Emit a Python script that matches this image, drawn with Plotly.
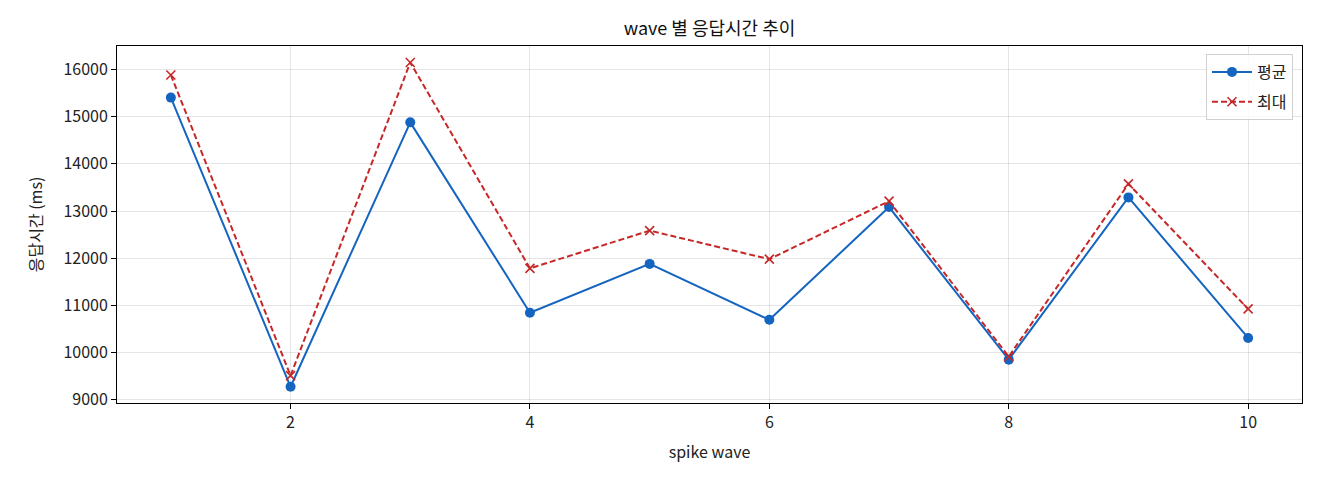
import plotly.graph_objects as go

waves = [1, 2, 3, 4, 5, 6, 7, 8, 9, 10]
avg_ms = [15405, 9275, 14880, 10845, 11880, 10695, 13085, 9850, 13290, 10310]
max_ms = [15885, 9510, 16150, 11785, 12585, 11980, 13210, 9915, 13575, 10925]
y_ticks = [9000, 10000, 11000, 12000, 13000, 14000, 15000, 16000]
x_ticks = [2, 4, 6, 8, 10]

BLUE = "#1565c0"
RED = "#c62828"
FONT = "Noto Sans CJK KR, Noto Sans, DejaVu Sans, sans-serif"

fig = go.Figure()
fig.add_trace(go.Scatter(
    x=waves, y=avg_ms, name="평균", mode="lines+markers", legendgroup="avg",
    line=dict(color=BLUE, width=2),
    marker=dict(symbol="circle", size=10, color=BLUE),
))
fig.add_trace(go.Scatter(
    x=waves, y=max_ms, name="최대", mode="lines+markers", legendgroup="max",
    line=dict(color=RED, width=2, dash="6px,3px"),
    marker=dict(symbol="x-thin", size=9, color=RED, line=dict(color=RED, width=1.6)),
))

# page body adds ~8px offset, margins compensate for it
fig.update_layout(
    width=1320, height=480,
    margin=dict(l=109, r=26, t=38, b=85),
    paper_bgcolor="white", plot_bgcolor="white",
    font=dict(family=FONT, size=16, color="#222"),
    title=dict(text="wave 별 응답시간 추이", x=701.5 / 1320, xanchor="center",
               y=1 - 21 / 480, yanchor="middle", font=dict(size=18, color="#111")),
    legend=dict(x=0.9924, y=0.9776, xanchor="right", yanchor="top",
                bgcolor="rgba(255,255,255,0.8)", bordercolor="#d0d0d0", borderwidth=1,
                font=dict(size=16), itemwidth=40, tracegroupgap=6),
    showlegend=True,
)
fig.update_xaxes(
    range=[0.55, 10.45], tickvals=x_ticks, ticks="outside", ticklen=5, tickcolor="black",
    showline=True, linecolor="black", linewidth=1, mirror=True,
    showgrid=True, gridcolor="rgba(0,0,0,0.1)", zeroline=False,
    title=dict(text="spike wave", font=dict(size=16), standoff=14),
)
fig.update_yaxes(
    range=[8931, 16499], tickvals=y_ticks, tickformat="d", ticks="outside", ticklen=5,
    tickcolor="black", showline=True, linecolor="black", linewidth=1, mirror=True,
    showgrid=True, gridcolor="rgba(0,0,0,0.1)", zeroline=False,
    title=dict(text="응답시간 (ms)", font=dict(size=16), standoff=16),
)

fig.write_html("out.html")
